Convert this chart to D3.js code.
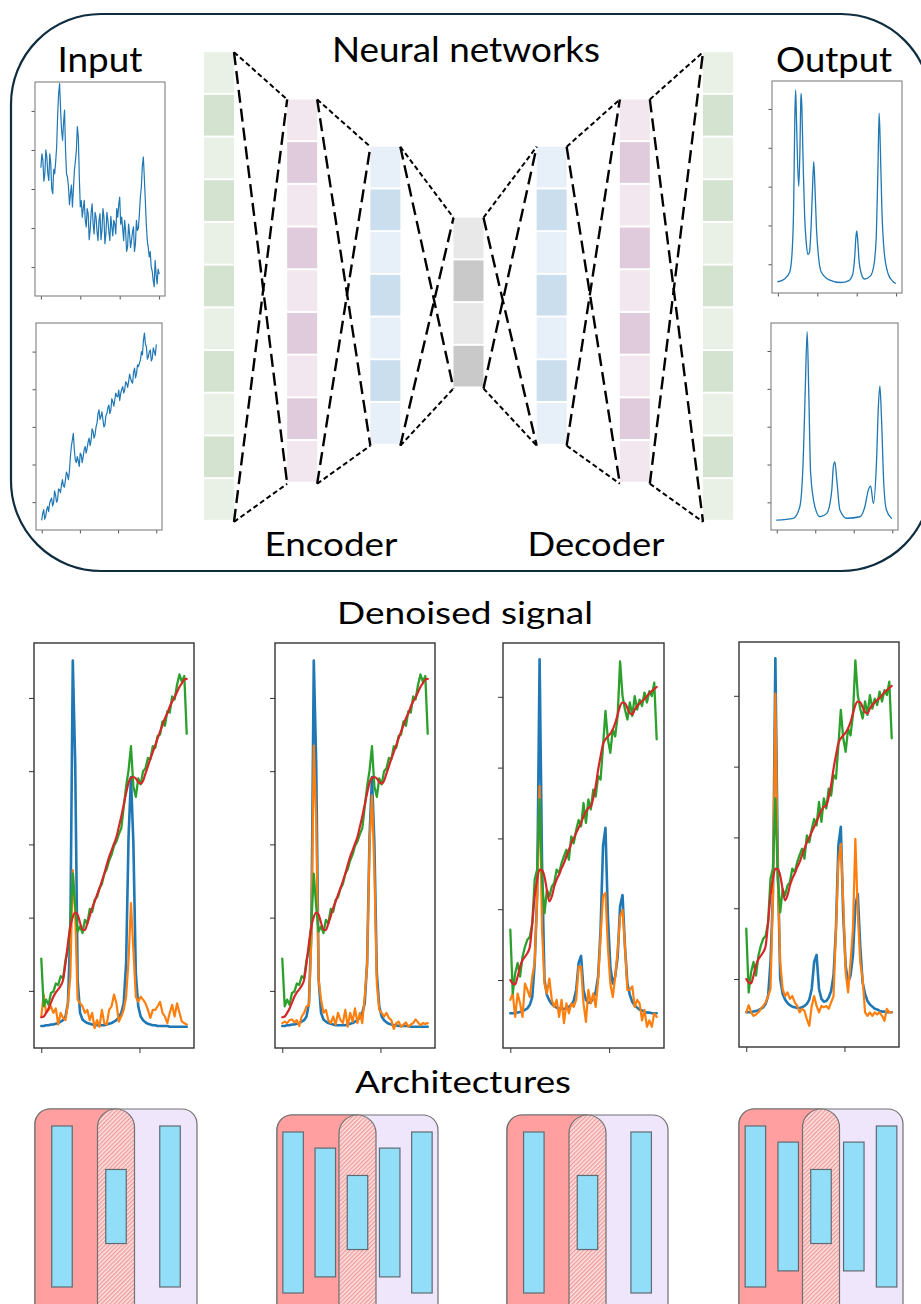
<!DOCTYPE html>
<html>
<head>
<meta charset="utf-8">
<script src="https://cdn.jsdelivr.net/npm/d3@7"></script>
<style>
  body { margin: 0; background: #fff; }
  svg { display: block; }
</style>
</head>
<body>
<div id="chart"></div>
<script>
// ---- data ----
// input spectra (sampled, arbitrary intensity)
const input1 = [256,290,274,220,239,300,282,240,222,290, 265,200,188,250,239,270,308,390,444,470,
  402,350,325,370,402,300,239,230,205,160, 188,210,154,200,248,270,299,360,333,230,
  154,170,128,150,171,120,103,150,137,70, 94,140,162,110,85,140,128,90,68,120,
  137,70,94,150,128,60,85,140,120,90, 68,130,103,80,120,110,85,150,128,160,
  179,110,128,100,68,120,94,40,51,110, 85,50,68,90,103,40,60,120,94,100,
  137,180,205,260,282,230,171,110,68,50, 26,40,0,-10,-34,-50,17,-20,-43,-5, -17];
const input2 = [-47,-30,-20,-45,-38,-20,-12,-25,-3,5, 11,-10,-3,30,19,0,6,35,33,25,
  46,60,42,40,59,80,73,60,81,120, 148,165,183,140,112,105,121,110,95,130,
  126,105,121,140,148,130,143,160,170,150, 165,195,188,170,179,200,210,235,245,220,
  227,240,219,200,205,230,236,250,258,235, 245,275,267,255,272,290,281,280,298,270,
  289,300,307,290,298,320,316,305,320,340, 329,320,316,345,356,330,342,365,360,370,
  378,400,391,430,449,420,413,380,387,400, 404,375,382,410,400,390,418];
// output spectra as [x, intensity]
const output1 = [[0,-45],[0.17,-38],[0.3,-20],[0.36,30],[0.4,150],[0.43,380],[0.45,449],[0.47,380],[0.5,260],
  [0.53,200],[0.56,300],[0.58,420],[0.59,440],[0.61,400],[0.64,260],[0.68,120],[0.72,55],[0.76,25],[0.8,30],
  [0.84,90],[0.88,200],[0.91,264],[0.94,200],[0.98,90],[1.03,20],[1.1,-20],[1.3,-40],[1.6,-47],[1.8,-42],
  [1.9,-25],[1.95,20],[1.98,70],[2.0,86],[2.02,70],[2.06,10],[2.12,-25],[2.2,-38],[2.35,-30],[2.44,0],
  [2.5,80],[2.54,250],[2.57,389],[2.6,300],[2.64,140],[2.7,30],[2.8,-25],[2.9,-42],[2.98,-49]];
const output2 = [[0,-47],[0.43,-42],[0.6,-11],[0.69,121],[0.74,297],[0.79,451],[0.83,297],[0.88,77],[0.99,-11],
  [1.12,-38],[1.3,-29],[1.43,33],[1.47,94],[1.51,107],[1.56,59],[1.64,-20],[1.82,-42],[2.16,-38],[2.29,-11],
  [2.38,33],[2.44,43],[2.51,-3],[2.59,103],[2.64,253],[2.68,307],[2.72,226],[2.78,50],[2.85,-20],[2.98,-42]];

// denoised signals, sample A (panels 1-2) and sample B (panels 3-4)
const blueA = [-48,-48,-47,-47,-46,-46,-45,-44,-42,-40, -35,-17,83,451,310,15,-30,-39,-42,-44,
  -45,-46,-47,-47,-47,-47,-47,-46,-45,-44, -42,-40,-36,-30,-17,38,210,292,201,24,
  -21,-35,-40,-43,-45,-46,-47,-47,-48,-48, -48,-48,-48,-49,-49,-49,-49,-49,-49,-49, -49];
const orangeA1 = [-35,-5,-30,-26,-21,-30,-24,-46,-30,-37, -40,-17,20,165,106,-12,-17,-21,-30,-26,
  -40,-30,-51,-40,-49,-26,-44,-46,-26,-21, -5,-17,-42,-35,-26,-8,42,120,56,-8,
  -15,-8,-12,-17,-26,-37,-26,-26,-21,-15, -30,-35,-44,-30,-19,-35,-17,-30,-42,-44, -46];
const orangeA2 = [-44,-42,-44,-40,-39,-43,-40,-48,-35,-30, -21,-20,70,335,230,15,-12,-30,-26,-40,
  -44,-35,-46,-30,-40,-44,-26,-49,-30,-42, -24,-44,-30,-44,-8,35,201,267,165,10,
  -26,-30,-35,-30,-37,-40,-52,-44,-42,-49, -46,-43,-49,-46,-44,-39,-43,-47,-44,-45, -44];
const greenA = [44,-21,-12,-19,-3,-1,10,8,20,17, 42,56,92,160,115,81,88,79,97,92,
  112,108,124,128,140,146,160,166,178,186, 198,204,214,222,251,279,301,334,279,265,
  290,282,300,304,318,316,334,332,348,350, 368,362,382,380,402,398,418,432,422,430, 351];
const redA = [-36,-35,-30,-24,-16,-8,-2,2,7,15, 38,65,88,101,107,104,93,84,83,92,
  102,113,122,131,140,150,160,172,183,192, 201,210,224,238,254,270,284,291,292,290,
  285,283,287,297,307,317,326,335,345,354, 363,372,379,388,395,401,408,415,420,425, 426];

const blueB = [-47,-47,-47,-46,-45,-44,-42,-40,-35,-24, 24,118,453,165,0,-21,-29,-34,-37,-39,
  -40,-41,-41,-40,-38,-35,-29,-14,24,34, -14,-28,-32,-31,-26,-17,5,71,189,215,
  90,19,-5,5,33,104,120,47,-5,-21, -31,-36,-39,-42,-43,-45,-46,-46,-47,-47, -47];
const orangeB1 = [-28,-19,-52,-19,-33,-52,-5,-14,-24,5, 24,118,274,71,-5,-19,2,-28,-38,-28,
  -52,-28,-61,-33,-47,-33,-38,-28,19,19, -33,-59,-14,-33,-19,-38,0,61,118,123,
  47,-5,-24,5,42,90,99,47,-14,-14, -9,-38,-28,-33,-57,-42,-66,-57,-66,-47, -52];
const orangeB2 = [-47,-37,-47,-52,-50,-47,-42,-38,-33,-24, -14,118,403,142,24,-14,-24,-19,-28,-24,
  -33,-38,-47,-42,-45,-57,-66,-38,-24,-38, -47,-38,-40,-38,-42,-33,-24,71,165,191,
  108,9,-19,24,71,198,94,24,0,-47, -52,-47,-52,-47,-50,-47,-52,-59,-42,-47, -47];
const greenB = [71,-19,10,24,5,33,47,57,61,80, 142,156,255,142,94,127,118,132,137,156,
  151,165,175,184,170,203,193,212,226,217, 250,222,255,241,269,259,288,283,330,380,
  340,321,354,344,373,450,401,382,368,392, 373,401,382,396,387,406,392,408,401,420, 340];
const redB = [0,-5,-6,5,19,28,33,38,47,80, 118,142,156,155,146,127,111,118,132,142,
  149,158,165,175,184,193,200,208,215,222, 231,238,243,245,257,274,297,316,333,340,
  344,348,354,363,375,387,392,391,384,377, 375,382,387,391,394,397,401,405,408,411, 414];

// ticks
const smallYTicks = [0, 100, 200, 300, 400];
const smallXTickFractions = [0, 1 / 3, 2 / 3, 1];
const denoisedYTicks = [0, 100, 200, 300, 400];
const denoisedXTicks = [0, 40.5];

// network: cells per layer and palettes (light, dark)
const layerCells = [11, 9, 7, 4, 7, 9, 11];
const layerPalettes = [
  ["#e9f1e6", "#d3e3cf"], ["#f2e7ef", "#dfcbdc"], ["#e7eff8", "#cadeee"],
  ["#e8e8e8", "#c9c9c9"],
  ["#e7eff8", "#cadeee"], ["#f2e7ef", "#dfcbdc"], ["#e9f1e6", "#d3e3cf"]
];

// architectures: relative depth of each layer
const archLayers = [[1, 0.46, 1], [1, 0.8, 0.46, 0.8, 1], [1, 0.46, 1], [1, 0.8, 0.46, 0.8, 1]];

// ---- drawing ----
const W = 921, H = 1304;
const FONT = "Lato, 'Open Sans', 'DejaVu Sans', sans-serif";
const C = { blue: "#1f77b4", orange: "#ff7f0e", green: "#2ca02c", red: "#d62728" };

const svg = d3.select("#chart").append("svg").attr("width", W).attr("height", H);
const defs = svg.append("defs");
const hatch = defs.append("pattern").attr("id", "hatch")
  .attr("patternUnits", "userSpaceOnUse").attr("width", 3).attr("height", 3)
  .attr("patternTransform", "rotate(45)");
hatch.append("rect").attr("width", 3).attr("height", 3).attr("fill", "#fde3e3");
hatch.append("line").attr("x1", 0.7).attr("y1", 0).attr("x2", 0.7).attr("y2", 3)
  .attr("stroke", "#f09c9c").attr("stroke-width", 1.4);

// big rounded frame
svg.append("rect").attr("x", 11).attr("y", 14).attr("width", 920).attr("height", 557)
  .attr("rx", 90).attr("fill", "none").attr("stroke", "#0f2d3f").attr("stroke-width", 2.2);

function title(txt, cx, y, size, len) {
  svg.append("text").attr("x", cx).attr("y", y).attr("text-anchor", "middle")
    .attr("font-family", FONT).attr("font-size", size).attr("fill", "#000")
    .attr("textLength", len).attr("lengthAdjust", "spacingAndGlyphs").text(txt);
}

// spectrum panel: frame {x0,x1,y0,y1}
function panel(frame, xDomain, yDomain, xTicks, yTicks, series, o) {
  const x = d3.scaleLinear().domain(xDomain).range([frame.x0, frame.x1]);
  const y = d3.scaleLinear().domain(yDomain).range([frame.y1, frame.y0]);
  const g = svg.append("g");

  series.forEach(s => {
    const line = d3.line()
      .x((d, i) => s.pairs ? x(d[0]) : x(i))
      .y(d => s.pairs ? y(d[1]) : y(d))
      .curve(s.curve || d3.curveLinear);
    g.append("path").datum(s.data).attr("d", line)
      .attr("fill", "none").attr("stroke", s.color).attr("stroke-width", s.width)
      .attr("stroke-linejoin", "round").attr("stroke-linecap", "round");
  });

  g.append("g").attr("transform", `translate(${frame.x0},0)`)
    .call(d3.axisLeft(y).tickValues(yTicks).tickSize(o.tick).tickFormat(""))
    .call(a => a.select(".domain").remove())
    .selectAll("line").attr("stroke", o.tickColor);
  g.append("g").attr("transform", `translate(0,${frame.y1})`)
    .call(d3.axisBottom(x).tickValues(xTicks).tickSize(o.tick).tickFormat(""))
    .call(a => a.select(".domain").remove())
    .selectAll("line").attr("stroke", o.tickColor);

  g.append("rect").attr("x", frame.x0).attr("y", frame.y0)
    .attr("width", frame.x1 - frame.x0).attr("height", frame.y1 - frame.y0)
    .attr("fill", "none").attr("stroke", o.frameColor).attr("stroke-width", o.frameWidth);
}

const smallStyle = { tick: 3.5, tickColor: "#555", frameColor: "#8a8a8a", frameWidth: 1.2 };
const bigStyle = { tick: 5, tickColor: "#333", frameColor: "#333", frameWidth: 1.4 };

// index-sampled spectra: matplotlib-like 5% margins
function idxDomain(arr) { const n = arr.length - 1; return [-0.05 * n, 1.05 * n]; }
function idxTicks(arr) { const n = arr.length - 1; return smallXTickFractions.map(f => f * n); }

// input / output spectra
panel({ x0: 35, x1: 165, y0: 82, y1: 296 }, idxDomain(input1), [-74, 474], idxTicks(input1), smallYTicks,
  [{ data: input1, color: C.blue, width: 1.2 }], smallStyle);
panel({ x0: 36, x1: 162, y0: 323, y1: 530 }, idxDomain(input2), [-74, 476], idxTicks(input2), smallYTicks,
  [{ data: input2, color: C.blue, width: 1.2 }], smallStyle);
panel({ x0: 772, x1: 902, y0: 81, y1: 293 }, [-0.15, 3.15], [-74, 472], [0, 1, 2, 3], smallYTicks,
  [{ data: output1, pairs: true, color: C.blue, width: 1.3, curve: d3.curveMonotoneX }], smallStyle);
panel({ x0: 771, x1: 898, y0: 323, y1: 530 }, [-0.15, 3.15], [-73, 474], [0, 1, 2, 3], smallYTicks,
  [{ data: output2, pairs: true, color: C.blue, width: 1.3, curve: d3.curveMonotoneX }], smallStyle);

// network layers
const CELL = 42.7, LAYER_W = 30;
const netX = d3.scalePoint().domain(d3.range(layerCells.length)).range([219, 718]);
const layers = layerCells.map((n, k) => {
  const cx = netX(k), cy = 287 + (11 - n) * 2.3;
  const top = cy - n * CELL / 2;
  return { x0: cx - LAYER_W / 2, x1: cx + LAYER_W / 2, top, bot: top + n * CELL, n, pal: layerPalettes[k] };
});
const netG = svg.append("g");
layers.forEach(L => {
  netG.selectAll(null).data(d3.range(L.n)).enter().append("rect")
    .attr("x", L.x0).attr("y", j => L.top + j * CELL)
    .attr("width", LAYER_W).attr("height", CELL - 2)
    .attr("fill", j => L.pal[j % 2]);
});
for (let k = 0; k < layers.length - 1; k++) {
  const a = layers[k], b = layers[k + 1];
  const segs = [
    [a.x1, a.top, b.x0, b.top, "5,3", 2],
    [a.x1, a.bot, b.x0, b.bot, "5,3", 2],
    [a.x1, a.top, b.x0, b.bot, "13,6", 2.4],
    [a.x1, a.bot, b.x0, b.top, "13,6", 2.4]
  ];
  segs.forEach(s => netG.append("line")
    .attr("x1", s[0]).attr("y1", s[1]).attr("x2", s[2]).attr("y2", s[3])
    .attr("stroke", "#000").attr("stroke-width", s[5]).attr("stroke-dasharray", s[4]));
}

title("Input", 100, 72, 34, 85);
title("Neural networks", 466, 62, 35, 268);
title("Output", 834, 72, 34, 116);
title("Encoder", 331, 556, 33, 133);
title("Decoder", 596, 556, 33, 137);
title("Denoised signal", 465, 624, 31, 256);
title("Architectures", 463, 1093, 31, 216);

// denoised panels
const dX = [-3, 63];
const dFrames = [
  { x0: 34, x1: 194, y0: 643, y1: 1048 },
  { x0: 275, x1: 435, y0: 643, y1: 1048 },
  { x0: 503, x1: 664, y0: 643, y1: 1048 },
  { x0: 739, x1: 899, y0: 642, y1: 1047 }
];
const dSets = [
  { y: [-78, 475], blue: blueA, orange: orangeA1, green: greenA, red: redA },
  { y: [-78, 475], blue: blueA, orange: orangeA2, green: greenA, red: redA },
  { y: [-96, 476], blue: blueB, orange: orangeB1, green: greenB, red: redB },
  { y: [-96, 476], blue: blueB, orange: orangeB2, green: greenB, red: redB }
];
dSets.forEach((s, k) => {
  panel(dFrames[k], dX, s.y, denoisedXTicks, denoisedYTicks, [
    { data: s.blue, color: C.blue, width: 2.6 },
    { data: s.orange, color: C.orange, width: 2.2 },
    { data: s.green, color: C.green, width: 2.3 },
    { data: s.red, color: C.red, width: 2.2, curve: d3.curveMonotoneX }
  ], bigStyle);
});

// architectures
const archBoxes = [
  { x: 35, w: 162, top: 1109 }, { x: 277, w: 161, top: 1115 },
  { x: 507, w: 161, top: 1115 }, { x: 739, w: 164, top: 1109 }
];
const BOX_H = 230, R = 15, PILL_W = 37, BAR_W = 20.5;
const barH = d3.scaleLinear().domain([0, 1]).range([0, 161]);
archLayers.forEach((layersA, k) => {
  const b = archBoxes[k];
  const g = svg.append("g");
  const mid = b.x + b.w / 2;
  g.append("rect").attr("x", b.x).attr("y", b.top).attr("width", b.w).attr("height", BOX_H)
    .attr("rx", R).attr("fill", "#f0e6fc").attr("stroke", "#707070").attr("stroke-width", 1.2);
  g.append("path")
    .attr("d", `M${mid},${b.top} H${b.x + R} A${R},${R} 0 0 0 ${b.x},${b.top + R} V${b.top + BOX_H} H${mid} Z`)
    .attr("fill", "#ff9f9f").attr("stroke", "#707070").attr("stroke-width", 1.2);
  g.append("rect").attr("x", mid - PILL_W / 2).attr("y", b.top).attr("width", PILL_W).attr("height", BOX_H)
    .attr("rx", PILL_W / 2).attr("fill", "url(#hatch)").attr("stroke", "#707070").attr("stroke-width", 1.2);
  const bx = d3.scalePoint().domain(d3.range(layersA.length)).range([b.x, b.x + b.w]).padding(0.5);
  const cy = b.top + 97.5;
  g.selectAll(null).data(layersA).enter().append("rect")
    .attr("x", (d, i) => bx(i) - BAR_W / 2).attr("y", d => cy - barH(d) / 2)
    .attr("width", BAR_W).attr("height", d => barH(d))
    .attr("fill", "#92def8").attr("stroke", "#5f6b70").attr("stroke-width", 1.2);
});
</script>
</body>
</html>
